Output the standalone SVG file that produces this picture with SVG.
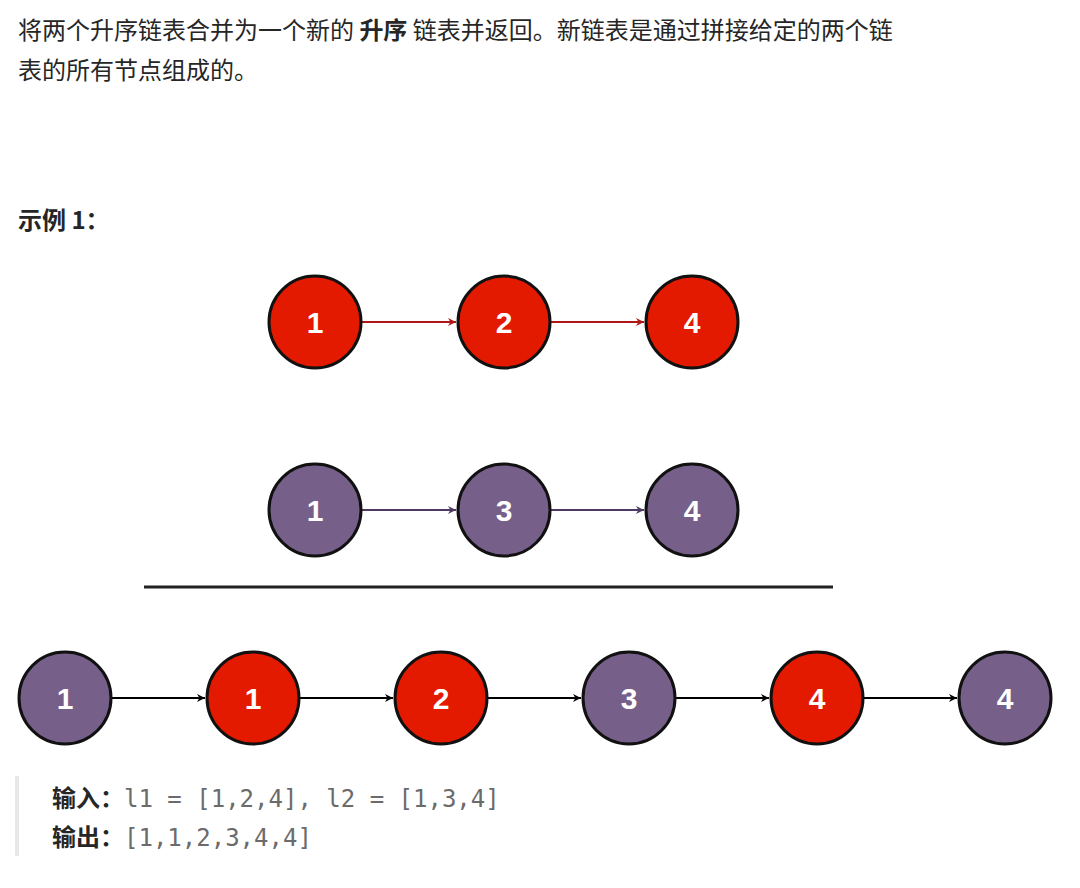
<svg xmlns="http://www.w3.org/2000/svg" width="1080" height="888" viewBox="0 0 1080 888">
<defs>
<style>
.t{font-family:"Noto Sans CJK SC","Noto Sans",sans-serif;font-size:24px;fill:#262626}
.b{font-weight:bold}
.m{font-family:"DejaVu Sans Mono","Liberation Mono",monospace;font-size:24px;fill:#6b6b6b}
.red{fill:#e31a00;stroke:#111;stroke-width:3}
.pur{fill:#76608a;stroke:#111;stroke-width:3}
.n{font-family:"Liberation Sans",Arial,sans-serif;font-weight:bold;font-size:30px;fill:#fff;text-anchor:middle}
</style>
<marker id="ar" viewBox="0 0 10 10" refX="10" refY="5" markerWidth="8" markerHeight="8" orient="auto" markerUnits="userSpaceOnUse"><path d="M0,0 L10,5 L0,10 L3,5z" fill="#b01818"/></marker>
<marker id="ap" viewBox="0 0 10 10" refX="10" refY="5" markerWidth="8" markerHeight="8" orient="auto" markerUnits="userSpaceOnUse"><path d="M0,0 L10,5 L0,10 L3,5z" fill="#4f3a66"/></marker>
<marker id="ak" viewBox="0 0 10 10" refX="10" refY="5" markerWidth="8" markerHeight="8" orient="auto" markerUnits="userSpaceOnUse"><path d="M0,0 L10,5 L0,10 L3,5z" fill="#000"/></marker>
</defs>
<rect width="1080" height="888" fill="#fff"/>
<text class="t" x="18" y="39">将两个升序链表合并为一个新的 <tspan class="b">升序</tspan> 链表并返回。新链表是通过拼接给定的两个链</text>
<text class="t" x="18" y="79">表的所有节点组成的。</text>
<text class="t b" x="18" y="229">示例 1：</text>
<g id="connectors">
<line x1="362" y1="322" x2="456" y2="322" stroke="#b01818" stroke-width="2" marker-end="url(#ar)"/>
<line x1="551" y1="322" x2="644" y2="322" stroke="#b01818" stroke-width="2" marker-end="url(#ar)"/>
<line x1="362" y1="510" x2="456" y2="510" stroke="#4f3a66" stroke-width="2" marker-end="url(#ap)"/>
<line x1="551" y1="510" x2="644" y2="510" stroke="#4f3a66" stroke-width="2" marker-end="url(#ap)"/>
<line x1="112" y1="698" x2="205" y2="698" stroke="#000" stroke-width="2" marker-end="url(#ak)"/>
<line x1="300" y1="698" x2="393" y2="698" stroke="#000" stroke-width="2" marker-end="url(#ak)"/>
<line x1="488" y1="698" x2="581" y2="698" stroke="#000" stroke-width="2" marker-end="url(#ak)"/>
<line x1="676" y1="698" x2="769" y2="698" stroke="#000" stroke-width="2" marker-end="url(#ak)"/>
<line x1="864" y1="698" x2="957" y2="698" stroke="#000" stroke-width="2" marker-end="url(#ak)"/>
</g>
<line x1="144" y1="587" x2="833" y2="587" stroke="#222" stroke-width="3"/>
<g id="a1"><circle class="red" cx="315" cy="322" r="46"/><text class="n" x="315" y="333">1</text></g>
<g id="a2"><circle class="red" cx="504" cy="322" r="46"/><text class="n" x="504" y="333">2</text></g>
<g id="a4"><circle class="red" cx="692" cy="322" r="46"/><text class="n" x="692" y="333">4</text></g>
<g id="b1"><circle class="pur" cx="315" cy="510" r="46"/><text class="n" x="315" y="521">1</text></g>
<g id="b3"><circle class="pur" cx="504" cy="510" r="46"/><text class="n" x="504" y="521">3</text></g>
<g id="b4"><circle class="pur" cx="692" cy="510" r="46"/><text class="n" x="692" y="521">4</text></g>
<g id="c1"><circle class="pur" cx="65" cy="698" r="46"/><text class="n" x="65" y="709">1</text></g>
<g id="c2"><circle class="red" cx="253" cy="698" r="46"/><text class="n" x="253" y="709">1</text></g>
<g id="c3"><circle class="red" cx="441" cy="698" r="46"/><text class="n" x="441" y="709">2</text></g>
<g id="c4"><circle class="pur" cx="629" cy="698" r="46"/><text class="n" x="629" y="709">3</text></g>
<g id="c5"><circle class="red" cx="817" cy="698" r="46"/><text class="n" x="817" y="709">4</text></g>
<g id="c6"><circle class="pur" cx="1005" cy="698" r="46"/><text class="n" x="1005" y="709">4</text></g>
<rect x="15" y="776" width="4" height="80" fill="#e8e8e8"/>
<text x="52" y="807"><tspan class="t b">输入：</tspan><tspan class="m">l1 = [1,2,4], l2 = [1,3,4]</tspan></text>
<text x="52" y="846"><tspan class="t b">输出：</tspan><tspan class="m">[1,1,2,3,4,4]</tspan></text>
</svg>
